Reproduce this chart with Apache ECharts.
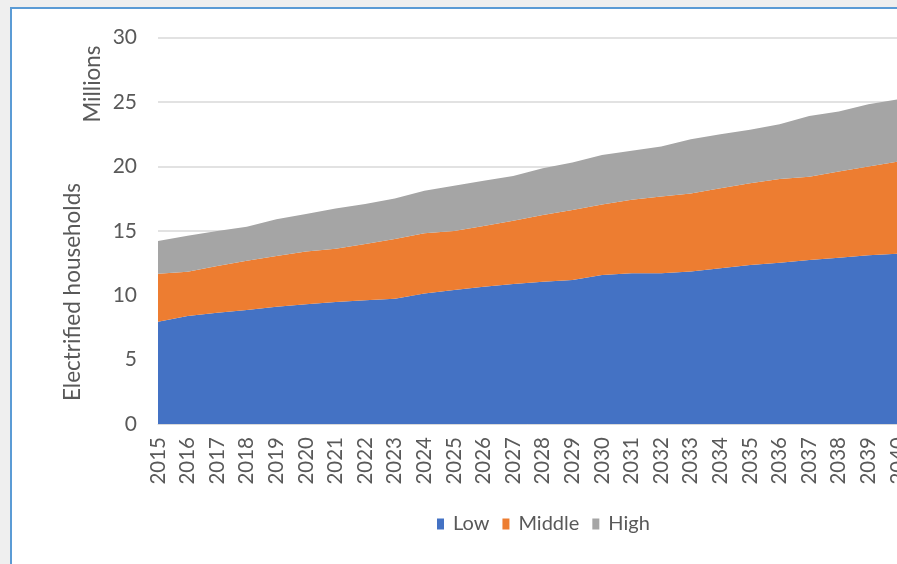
<!DOCTYPE html>
<html>
<head>
<meta charset="utf-8">
<script src="https://cdn.jsdelivr.net/npm/echarts@6/dist/echarts.min.js"></script>
<style>
html,body{margin:0;padding:0;background:#efefef;overflow:hidden;width:897px;height:564px;}
#frame{position:absolute;left:10px;top:7px;width:900px;height:600px;background:#ffffff;border-left:2.5px solid #5b9bd5;border-top:2.5px solid #5b9bd5;}
#chart{position:absolute;left:0;top:0;width:897px;height:564px;}
</style>
</head>
<body>
<div id="frame"></div>
<div id="chart"></div>
<script>
const years = ['2015','2016','2017','2018','2019','2020','2021','2022','2023','2024','2025','2026','2027','2028','2029','2030','2031','2032','2033','2034','2035','2036','2037','2038','2039','2040'];
const low    = [7.94,8.38,8.64,8.85,9.11,9.29,9.47,9.60,9.72,10.12,10.40,10.66,10.87,11.05,11.18,11.57,11.70,11.70,11.83,12.09,12.34,12.52,12.73,12.91,13.10,13.22];
const middle = [3.73,3.44,3.63,3.83,3.93,4.09,4.13,4.37,4.63,4.68,4.58,4.71,4.91,5.18,5.43,5.46,5.70,5.96,6.07,6.21,6.35,6.50,6.47,6.68,6.88,7.14];
const high   = [2.53,2.80,2.71,2.64,2.85,2.92,3.12,3.11,3.15,3.31,3.52,3.52,3.47,3.62,3.68,3.85,3.80,3.87,4.20,4.19,4.14,4.25,4.71,4.66,4.84,4.84];
const yTicks = [0,5,10,15,20,25,30];

const FONT = 'Lato';
const TXT = '#595959';
const chart = echarts.init(document.getElementById('chart'), null, {renderer:'canvas'});
function areaSeries(name, data, color){
  return {
    name: name, type:'line', stack:'total', data: data,
    symbol:'none', showSymbol:false, smooth:false,
    lineStyle:{width:0, color: color}, itemStyle:{color: color},
    areaStyle:{color: color, opacity:1}
  };
}
chart.setOption({
  animation:false,
  backgroundColor:'transparent',
  graphic:[
    {type:'text', silent:true, rotation:Math.PI/2, x:73, y:292,
     style:{text:'Electrified households', fill:TXT, font:'22.5px Lato', align:'center', verticalAlign:'middle'}},
    {type:'text', silent:true, rotation:Math.PI/2, x:93, y:84,
     style:{text:'Millions', fill:TXT, font:'22.5px Lato', align:'center', verticalAlign:'middle'}}
  ],
  legend:{
    data:['Low','Middle','High'],
    left:432, top:509,
    itemWidth:7, itemHeight:11, itemGap:13,
    icon:'rect',
    textStyle:{color:TXT, fontFamily:FONT, fontSize:20, padding:[0,0,0,4]}
  },
  grid:{left:158, top:37.5, width:740, height:386.5, containLabel:false, outerBoundsMode:'none'},
  xAxis:{
    type:'category', data:years, boundaryGap:false,
    axisLine:{show:true, lineStyle:{color:'#d9d9d9', width:1}},
    axisTick:{show:false},
    axisLabel:{rotate:90, interval:0, color:TXT, fontFamily:FONT, fontSize:20.5, margin:13},
    splitLine:{show:false}
  },
  yAxis:{
    type:'value', min:yTicks[0], max:yTicks[yTicks.length-1], interval:5,
    axisLine:{show:false}, axisTick:{show:false},
    axisLabel:{color:TXT, fontFamily:FONT, fontSize:21, margin:21},
    splitLine:{lineStyle:{color:'#d9d9d9', width:1.5}}
  },
  series:[
    areaSeries('Low', low, '#4472c4'),
    areaSeries('Middle', middle, '#ed7d31'),
    areaSeries('High', high, '#a5a5a5')
  ]
});
</script>
</body>
</html>
